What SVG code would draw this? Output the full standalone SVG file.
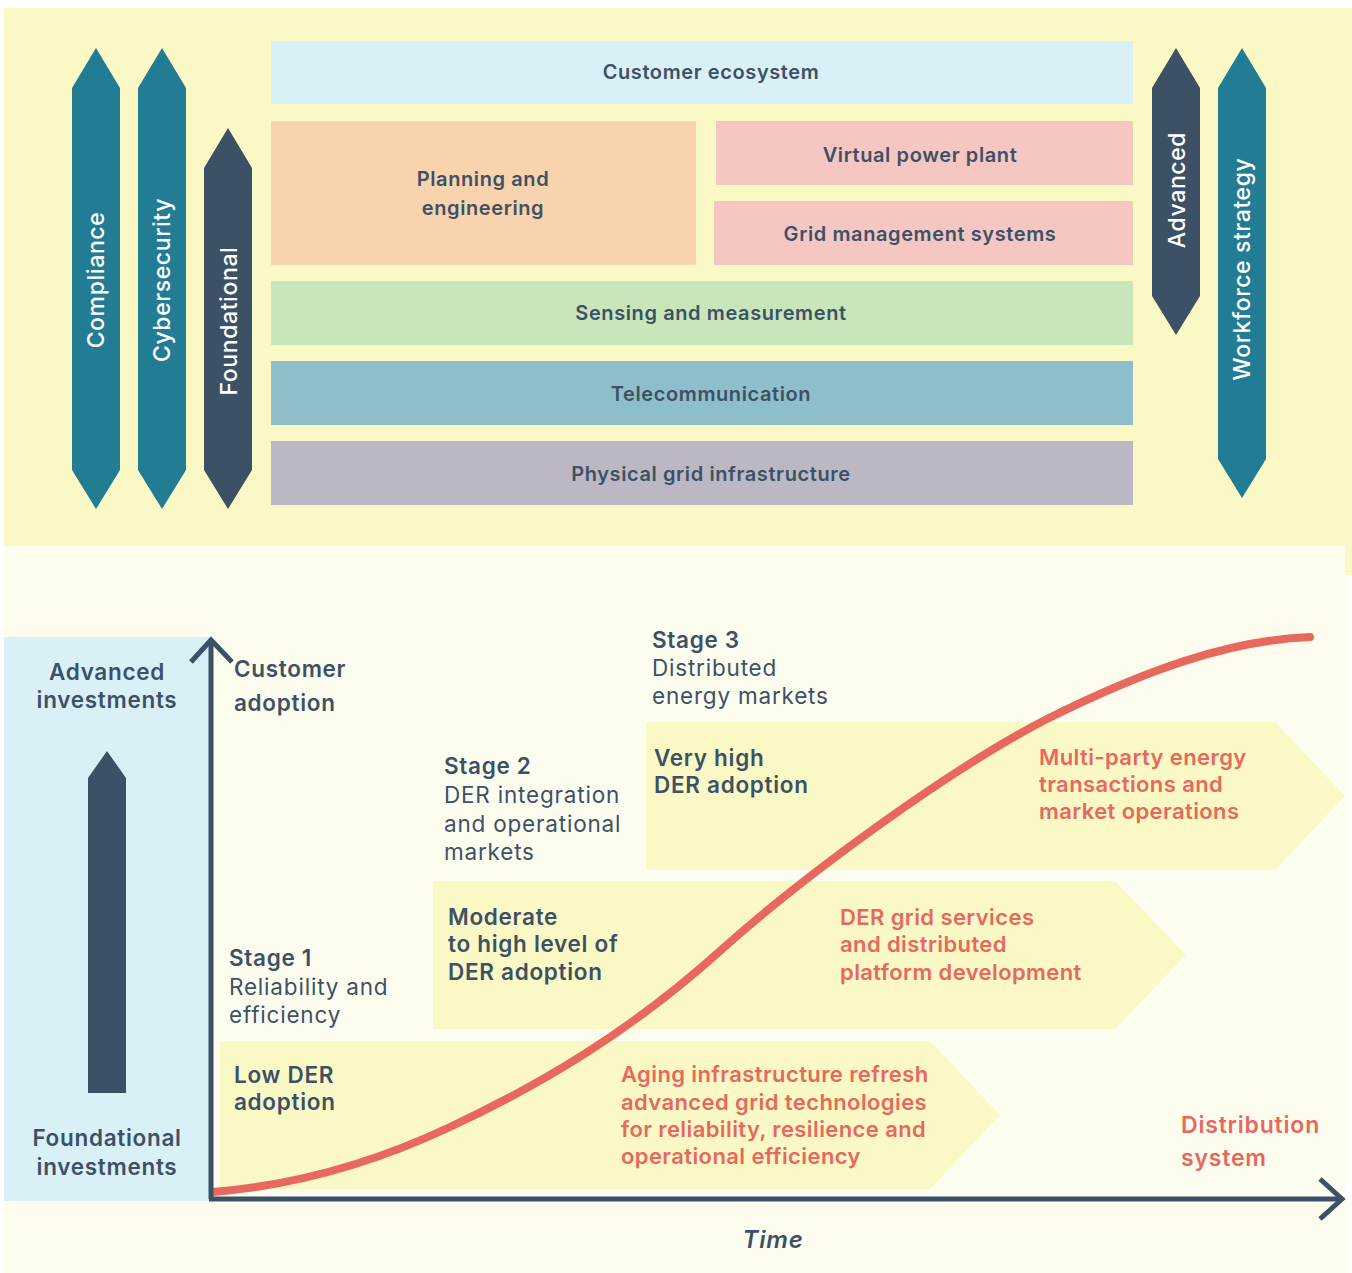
<svg xmlns="http://www.w3.org/2000/svg" width="1352" height="1273" viewBox="0 0 1352 1273">
<defs>
<style>
text{font-family:Inter,"Noto Sans","Liberation Sans",sans-serif;}
.box{font-size:20px;font-weight:600;fill:#3D5166;text-anchor:middle;letter-spacing:0.6px;}
.vert{font-size:23px;font-weight:500;fill:#FFFFFF;text-anchor:middle;dominant-baseline:central;letter-spacing:0.6px;}
.dk{font-size:22.5px;font-weight:600;fill:#3D5166;letter-spacing:0.7px;}
.dkr{font-size:22.5px;font-weight:400;fill:#3D5166;letter-spacing:0.8px;}
.rd{font-size:22px;font-weight:600;fill:#E8685D;letter-spacing:0.4px;}
.big{font-size:24px;letter-spacing:0.8px;}
.mid{font-size:23px;letter-spacing:0.8px;}
.teal{fill:#227C94;}
.slate{fill:#3D5166;}
.stg{fill:#FAF8C5;}
.axis{stroke:#3D5166;stroke-width:5;fill:none;}
</style>
</defs>
<rect x="0" y="0" width="1352" height="1273" fill="#FFFFFF"/>
<rect x="4" y="8" width="1348" height="538" fill="#FAF8C5"/>
<rect x="1345" y="546" width="7" height="29" fill="#FAF8C5"/>
<rect x="4" y="546" width="1341" height="727" fill="#FDFDEF"/>

<g id="compliance"><polygon class="teal" points="72,88 96,48 120,88 120,470 96,509 72,470"/><text class="vert" transform="translate(96,280) rotate(-90)">Compliance</text></g>
<g id="cybersecurity"><polygon class="teal" points="138,88 162,48 186,88 186,470 162,509 138,470"/><text class="vert" transform="translate(162,280) rotate(-90)">Cybersecurity</text></g>
<g id="foundational"><polygon class="slate" points="204,168 228,128 252,168 252,470 228,509 204,470"/><text class="vert" transform="translate(229,321) rotate(-90)">Foundational</text></g>
<g id="advanced"><polygon class="slate" points="1152,88 1176,48 1200,88 1200,296 1176,335 1152,296"/><text class="vert" transform="translate(1177,190) rotate(-90)">Advanced</text></g>
<g id="workforce"><polygon class="teal" points="1218,88 1242,48 1266,88 1266,459 1242,498 1218,459"/><text class="vert" transform="translate(1242,269) rotate(-90)">Workforce strategy</text></g>

<g id="customer-ecosystem"><rect x="271" y="41" width="862" height="63" fill="#D9F0F7"/><text class="box" x="711" y="79">Customer ecosystem</text></g>
<g id="planning"><rect x="271" y="121" width="425" height="144" fill="#F9D3AD"/><text class="box" x="483" y="186">Planning and</text><text class="box" x="483" y="215">engineering</text></g>
<g id="vpp"><rect x="716" y="121" width="417" height="64" fill="#F6C6C2"/><text class="box" x="920" y="162">Virtual power plant</text></g>
<g id="gms"><rect x="714" y="201" width="419" height="64" fill="#F6C6C2"/><text class="box" x="920" y="241">Grid management systems</text></g>
<g id="sensing"><rect x="271" y="281" width="862" height="64" fill="#C8E6B9"/><text class="box" x="711" y="320">Sensing and measurement</text></g>
<g id="telecom"><rect x="271" y="361" width="862" height="64" fill="#8FBECB"/><text class="box" x="711" y="401">Telecommunication</text></g>
<g id="physical"><rect x="271" y="441" width="862" height="64" fill="#BBB8C3"/><text class="box" x="711" y="481">Physical grid infrastructure</text></g>

<g id="investments-panel">
<rect x="4" y="637" width="207" height="564" fill="#D9F0F7"/>
<text class="dk" x="107" y="680" text-anchor="middle">Advanced</text>
<text class="dk" x="107" y="708" text-anchor="middle">investments</text>
<polygon class="slate" points="88,1093 88,778 107,751 126,778 126,1093"/>
<text class="dk" x="107" y="1146" text-anchor="middle">Foundational</text>
<text class="dk" x="107" y="1175" text-anchor="middle">investments</text>
</g>

<g id="stage1-arrow"><polygon class="stg" points="220,1041 930,1041 1000,1115 930,1189 220,1189"/></g>
<g id="stage2-arrow"><polygon class="stg" points="433,881 1115,881 1186,955 1115,1029 433,1029"/></g>
<g id="stage3-arrow"><polygon class="stg" points="646,722 1275,722 1345,796 1275,870 646,870"/></g>

<g id="connectors">
<path d="M213,1192 C300,1185 380,1160 450,1127 C540,1085 630,1032 720,951 C800,879 945,772 1045,720 C1145,670 1230,640 1310,637" fill="none" stroke="#E8685D" stroke-width="8" stroke-linecap="round"/>
<line class="axis" x1="211" y1="641" x2="211" y2="1199"/>
<polyline class="axis" points="191,662 211,640 232,662"/>
<line class="axis" x1="209" y1="1199" x2="1342" y2="1199"/>
<polyline class="axis" points="1320,1179 1342,1199 1320,1219"/>
</g>

<g id="axis-labels">
<text class="dk" x="234" y="677">Customer</text>
<text class="dk" x="234" y="711">adoption</text>
<text class="dk big" x="773" y="1248" text-anchor="middle" style="font-style:italic">Time</text>
</g>

<g id="stage1-text">
<text class="dk" x="229" y="966">Stage 1</text>
<text class="dkr" x="229" y="995">Reliability and</text>
<text class="dkr" x="229" y="1023">efficiency</text>
<text class="dk" x="234" y="1083">Low DER</text>
<text class="dk" x="234" y="1110">adoption</text>
<text class="rd" x="621" y="1082">Aging infrastructure refresh</text>
<text class="rd" x="621" y="1110">advanced grid technologies</text>
<text class="rd" x="621" y="1137">for reliability, resilience and</text>
<text class="rd" x="621" y="1164">operational efficiency</text>
</g>

<g id="stage2-text">
<text class="dk" x="444" y="774">Stage 2</text>
<text class="dkr" x="444" y="803">DER integration</text>
<text class="dkr" x="444" y="832">and operational</text>
<text class="dkr" x="444" y="860">markets</text>
<text class="dk" x="448" y="925">Moderate</text>
<text class="dk" x="448" y="952">to high level of</text>
<text class="dk" x="448" y="980">DER adoption</text>
<text class="rd" x="840" y="925">DER grid services</text>
<text class="rd" x="840" y="952">and distributed</text>
<text class="rd" x="840" y="980">platform development</text>
</g>

<g id="stage3-text">
<text class="dk" x="652" y="648">Stage 3</text>
<text class="dkr" x="652" y="676">Distributed</text>
<text class="dkr" x="652" y="704">energy markets</text>
<text class="dk" x="654" y="766">Very high</text>
<text class="dk" x="654" y="793">DER adoption</text>
<text class="rd" x="1039" y="765">Multi-party energy</text>
<text class="rd" x="1039" y="792">transactions and</text>
<text class="rd" x="1039" y="819">market operations</text>
</g>

<g id="distribution-system">
<text class="rd mid" x="1181" y="1133">Distribution</text>
<text class="rd mid" x="1181" y="1166">system</text>
</g>
</svg>
